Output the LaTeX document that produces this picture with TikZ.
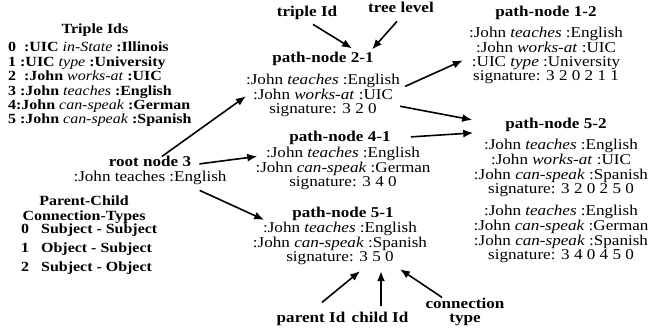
\documentclass[tikz,border=0pt]{standalone}
\usepackage{fontspec}
\setmainfont{Liberation Serif}
\usepackage{graphicx}
\usetikzlibrary{calc,arrows.meta}
\newcommand{\Blk}[2][c]{\scalebox{1.14}[1]{\begin{tabular}[t]{@{}#1@{}}#2\end{tabular}}}
\newcommand{\pr}[1]{\textmd{\textit{#1}}}
\begin{document}
\begin{tikzpicture}[x=1pt,y=-1pt,
  txt/.style={inner sep=0pt, anchor=base, font=\fontsize{15}{14}\selectfont},
  bold/.style={txt, font=\fontsize{15}{14}\selectfont\bfseries},
  legend/.style={inner sep=0pt, anchor=base, font=\fontsize{14}{#1}\selectfont\bfseries},
  arr/.style={line width=1.6pt, -{Latex[length=10pt,width=8pt]}}]
\useasboundingbox (0,0) rectangle (665,331);

% top labels
\node[bold] (ti) at (307,17) {\Blk{triple Id}};
\node[bold] (tl) at (401,13) {\Blk{tree level}};

% path-node 2-1
\node[bold] (p21t) at (323,63) {\Blk{path-node 2-1}};
\node[txt] (p21) at (323,85) {\Blk{:John \textit{teaches} :English\\:John \textit{works-at} :UIC\\signature: 3 2 0}};

% path-node 1-2
\node[bold] (p12t) at (546,17) {\Blk{path-node 1-2}};
\node[txt] (p12) at (546,38) {\Blk{:John \textit{teaches} :English\\:John \textit{works-at} :UIC\\:UIC \textit{type} :University\\signature: 3 2 0 2 1 1}};

% path-node 5-2
\node[bold] (p52t) at (556,129) {\Blk{path-node 5-2}};
\node[txt] (p52) at (561,150) {\Blk{:John \textit{teaches} :English\\:John \textit{works-at} :UIC\\:John \textit{can-speak} :Spanish\\signature: 3 2 0 2 5 0\\[8pt]:John \textit{teaches} :English\\:John \textit{can-speak} :German\\:John \textit{can-speak} :Spanish\\signature: 3 4 0 4 5 0}};

% path-node 4-1
\node[bold] (p41t) at (340,142) {\Blk{path-node 4-1}};
\node[txt] (p41) at (343,158) {\Blk{:John \textit{teaches} :English\\:John \textit{can-speak} :German\\signature: 3 4 0}};

% path-node 5-1
\node[bold] (p51t) at (343,218) {\Blk{path-node 5-1}};
\node[txt] (p51) at (340,233) {\Blk{:John \textit{teaches} :English\\:John \textit{can-speak} :Spanish\\signature: 3 5 0}};

% root
\node[bold] (rt) at (150,167) {\Blk{root node 3}};
\node[txt] (rb) at (150,182) {\Blk{:John teaches :English}};

% Triple Ids legend
\node[legend=14] (tit) at (95,34) {\Blk{Triple Ids}};
\node[legend=14.4, anchor=base west] (til) at (8,52) {\Blk[l]{0\ \ :UIC \pr{in-State} :Illinois\\1 :UIC \pr{type} :University\\2\ \ :John \pr{works-at} :UIC\\3 :John \pr{teaches} :English\\4:John \pr{can-speak} :German\\5 :John \pr{can-speak} :Spanish}};

% Parent-child legend
\node[legend=12] (pct) at (84,206) {\Blk{Parent-Child\\[1pt]Connection-Types}};
\node[legend=10, anchor=base west] (pcl) at (21,234) {\Blk[l@{\hspace{10.5pt}}l]{0 & Subject - Subject\\[6pt]1 & Object - Subject\\[6pt]2 & Subject - Object}};

% bottom labels
\node[bold] (lp) at (311,323) {\Blk{parent Id}};
\node[bold] (lc) at (380,323) {\Blk{child Id}};
\node[bold] (lt) at (465,309) {\Blk{connection\\type}};

% arrows
\draw[arr] ($(ti.south)+(6,3)$) -- ($(p21t.north)+(29,-4)$);
\draw[arr] ($(tl.south)+(-4,4)$) -- ($(p21t.north)+(49,-3)$);
\draw[arr] ($(rt.north)+(12,0)$) -- (p21.west);
\draw[arr] ($(rt.east)+(8,0)$) -- ($(p41.north west)+(2,9)$);
\draw[arr] ($(rb.south east)+(-27,4)$) -- ($(p51t.west)+(-28,5)$);
\draw[arr] ($(p21.north east)+(5,12)$) -- ($(p12.west)+(-6,4)$);
\draw[arr] ($(p21.east)+(0,10)$) -- ($(p52t.west)+(-33,-6)$);
\draw[arr] ($(p41t.east)+(20,-2)$) -- ($(p52t.west)+(-32,7)$);
\draw[arr] ($(lp.north)+(11,-10)$) -- ($(p51.south)+(20,5)$);
\draw[arr] ($(lc.north)+(1,-6)$) -- ($(p51.south)+(41,5)$);
\draw[arr] ($(lt.north)+(-23,-1)$) -- ($(p51.south)+(60,3)$);
\end{tikzpicture}
\end{document}
